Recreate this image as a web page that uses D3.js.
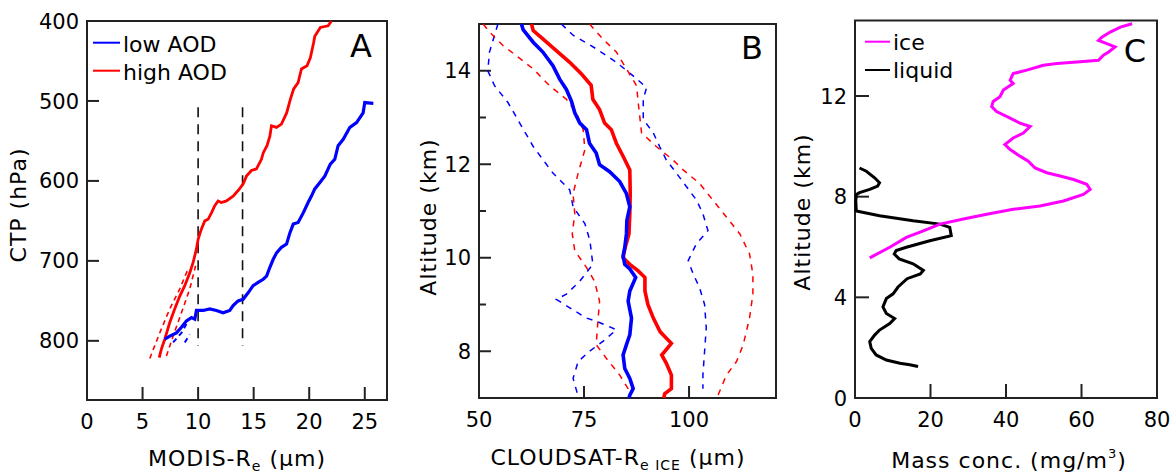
<!DOCTYPE html>
<html>
<head>
<meta charset="utf-8">
<title>Re profiles</title>
<script src="https://cdn.jsdelivr.net/npm/d3@7"></script>
<style>
body{margin:0;background:#fff;}
text{font-family:"DejaVu Sans",sans-serif;fill:#000;}
.tick{font-size:21px;}
.title{font-size:22px;letter-spacing:1px;}
.letter{font-size:32px;}
.leg{font-size:22px;}
</style>
</head>
<body>
<script>
// ---- panel A: MODIS Re vs cloud top pressure ----
const aXTicks = [0,5,10,15,20,25];
const aYTicks = [400,500,600,700,800];
const aMarkers = [10,14];           // dashed verticals
const aMarkerRange = [508,806];

const highAOD = [[22.0,400],[21.7,406],[21.0,408],[20.5,419],[20.4,427],[20.1,446],[19.8,456],[19.3,460],[19.0,477],[18.6,485],[18.3,498],[17.97,515],[17.5,529],[17.05,533],[16.6,531],[16.46,544],[16.2,556],[15.86,565],[15.7,573],[15.25,585],[14.8,587],[14.35,594],[14.05,604],[13.6,612],[13.15,619],[12.55,625],[12.1,627],[11.8,625],[11.5,631],[11.2,640],[10.9,648],[10.6,650],[10.3,660],[10.0,673],[9.85,685],[9.55,702],[9.25,715],[8.8,731],[8.35,744],[7.9,760],[7.45,777],[7.0,798],[6.7,810],[6.5,821]];
const highAODlo = [[5.65,822],[6.55,790],[7.45,760],[8.35,735],[9.1,710]];
const highAODhi = [[7.15,819],[7.75,794],[8.5,765],[9.25,735],[9.85,702]];

const lowAOD = [[25.77,503],[25.0,502],[24.85,515],[24.26,527],[23.66,533],[23.06,548],[22.6,556],[22.3,573],[21.9,579],[21.4,594],[20.96,602],[20.5,610],[20.2,619],[19.9,627],[19.46,640],[19.0,652],[18.56,654],[18.26,665],[17.96,679],[17.5,683],[17.06,690],[16.76,698],[16.46,708],[16.16,719],[15.86,723],[15.4,727],[14.95,731],[14.5,740],[14.05,748],[13.6,750],[13.15,756],[12.85,762],[12.25,765],[11.65,762],[11.05,760],[10.45,762],[9.85,762],[9.7,773],[9.4,771],[8.95,775],[8.5,783],[8.05,790],[7.45,794],[7.0,798]];
const lowAODlo = [[7.75,802],[8.5,790],[8.95,779]];
const lowAODhi = [[8.8,802],[9.25,792]];

// ---- panel B: CloudSat ice Re vs altitude ----
const bXTicks = [50,75,100];
const bYTicks = [8,10,12,14];
const bYMinor = [7,9,11,13,15];

const bHigh = [[62.5,15.0],[62.9,14.86],[65.2,14.68],[68.4,14.43],[71.6,14.18],[74.4,13.93],[76.7,13.69],[77.1,13.39],[78.7,13.17],[79.9,12.88],[81.5,12.74],[82.7,12.45],[84.3,12.17],[85.9,11.88],[86.0,11.37],[85.9,10.94],[85.7,10.51],[84.8,10.22],[84.3,10.0],[85.9,9.86],[87.9,9.72],[89.5,9.58],[89.5,9.29],[90.2,9.0],[91.5,8.71],[93.1,8.42],[94.6,8.28],[95.8,8.17],[93.5,7.92],[94.6,7.74],[95.8,7.49],[95.8,7.2],[94.2,7.09],[94.0,7.0]];
const bLow = [[60.1,15.0],[60.5,14.88],[62.9,14.61],[65.2,14.4],[67.6,14.11],[69.2,13.82],[70.8,13.6],[72.0,13.35],[72.8,13.1],[74.0,12.88],[75.6,12.74],[76.3,12.45],[77.9,12.24],[78.7,11.99],[81.1,11.84],[83.5,11.63],[85.1,11.37],[85.9,11.09],[85.2,10.8],[85.1,10.51],[84.7,10.22],[84.3,10.04],[84.7,9.86],[85.9,9.76],[87.3,9.58],[85.9,9.29],[85.5,9.07],[86.3,8.71],[85.9,8.35],[85.1,8.14],[84.3,7.92],[84.7,7.63],[85.9,7.42],[86.7,7.2],[85.9,7.06],[85.7,7.0]];
const bLowLo = [[54.5,15.0],[53.7,14.76],[52.5,14.4],[52.1,14.0],[53.7,13.68],[56.9,13.32],[59.7,12.88],[62.9,12.38],[67.6,11.81],[71.6,11.45],[72.4,11.09],[75.2,10.73],[76.4,10.37],[77.1,9.86],[74.0,9.5],[70.8,9.22],[68.4,9.11],[71.6,8.93],[75.6,8.71],[78.0,8.64],[82.7,8.46],[79.5,8.21],[76.3,8.0],[73.6,7.78],[72.4,7.42],[73.3,7.13],[73.3,7.0]];
const bLowHi = [[69.6,15.0],[72.4,14.76],[77.9,14.47],[82.7,14.18],[86.7,13.89],[89.9,13.64],[89.1,13.39],[89.1,12.96],[91.5,12.67],[93.0,12.38],[94.6,12.09],[97.0,11.81],[99.4,11.52],[101.8,11.23],[103.3,10.94],[104.5,10.58],[101.7,10.29],[99.8,9.94],[101.0,9.65],[102.5,9.36],[103.7,9.0],[104.1,8.5],[103.7,8.0],[103.3,7.49],[103.3,7.2]];
const bHighLo = [[51.0,15.0],[52.5,14.83],[55.7,14.54],[58.9,14.32],[62.9,14.04],[66.8,13.68],[70.8,13.39],[73.2,13.1],[74.8,12.74],[75.2,12.31],[73.6,11.81],[72.4,11.37],[72.8,10.94],[72.2,10.51],[72.8,10.15],[75.6,9.79],[77.5,9.5],[78.7,9.07],[78.3,8.64],[77.9,8.14],[80.3,7.85],[83.5,7.49],[85.5,7.2],[85.9,7.0]];
const bHighHi = [[76.3,15.0],[79.5,14.68],[82.7,14.4],[85.1,14.04],[87.5,13.68],[87.9,13.32],[88.7,12.67],[92.2,12.38],[96.2,12.09],[98.6,11.88],[102.5,11.59],[105.7,11.23],[108.9,10.87],[112.1,10.51],[114.4,10.08],[115.2,9.65],[115.2,9.22],[114.4,8.71],[112.9,8.14],[111.3,7.78],[108.9,7.49],[106.9,7.06]];

// ---- panel C: mass concentration vs altitude ----
const cXTicks = [0,20,40,60,80];
const cYTicks = [0,4,8,12];
const iceMass = [[73.4,14.87],[70.3,14.74],[67.6,14.54],[65.4,14.34],[64.5,14.21],[66.7,14.08],[68.9,13.95],[67.2,13.75],[65.8,13.62],[64.5,13.42],[59.6,13.36],[53.5,13.29],[49.9,13.22],[45.5,13.03],[41.9,12.89],[41.1,12.63],[41.9,12.5],[39.3,12.24],[38.4,11.97],[36.6,11.78],[36.2,11.58],[37.5,11.38],[41.1,11.12],[43.7,10.92],[46.4,10.79],[44.6,10.53],[41.9,10.33],[39.7,10.07],[41.1,9.87],[43.7,9.61],[45.9,9.41],[47.7,9.14],[50.8,8.95],[54.3,8.82],[57.9,8.68],[61.4,8.49],[62.3,8.29],[60.5,8.09],[55.2,7.83],[49.0,7.63],[41.9,7.5],[34.9,7.3],[28.7,7.11],[22.5,6.91],[18.1,6.64],[13.6,6.38],[9.2,5.99],[3.9,5.57]];
const liquidMass = [[1.2,9.14],[3.0,9.01],[5.2,8.75],[6.5,8.55],[6.0,8.42],[3.9,8.29],[1.2,8.16],[0.4,8.09],[0.2,7.83],[0.35,7.43],[6.5,7.24],[15.4,7.04],[22.5,6.91],[25.1,6.78],[25.5,6.45],[19.8,6.25],[13.6,5.99],[10.9,5.86],[10.4,5.72],[11.7,5.53],[15.4,5.33],[18.1,5.07],[17.3,4.93],[13.8,4.74],[11.4,4.41],[10.1,4.14],[8.3,3.95],[7.4,3.62],[8.3,3.36],[10.5,3.16],[9.2,2.96],[6.5,2.7],[5.2,2.5],[3.9,2.24],[4.3,1.97],[5.6,1.71],[8.3,1.51],[11.9,1.38],[14.5,1.32],[16.7,1.25]];

const svg = d3.select("body").append("svg")
    .attr("width",1172).attr("height",476);

function frame(x,y){
    const g = svg.append("g");
    const [t,b] = d3.extent(y.range());
    g.append("rect")
        .attr("x",x.range()[0]).attr("y",t)
        .attr("width",x.range()[1]-x.range()[0])
        .attr("height",b-t)
        .attr("fill","none").attr("stroke","#222").attr("stroke-width",2);
    return g;
}
function xTicks(g,x,y,vals,len,labelVals){
    const b = d3.max(y.range());
    vals.forEach(v=>{
        g.append("line").attr("x1",x(v)).attr("x2",x(v)).attr("y1",b).attr("y2",b-len)
            .attr("stroke","#222").attr("stroke-width",2);
    });
    labelVals.forEach(v=>{
        g.append("text").attr("class","tick").attr("x",x(v)).attr("y",b+29)
            .attr("text-anchor","middle").text(v);
    });
}
function yTicks(g,x,y,vals,len,labels){
    const l = x.range()[0];
    vals.forEach(v=>{
        g.append("line").attr("x1",l).attr("x2",l+len).attr("y1",y(v)).attr("y2",y(v))
            .attr("stroke","#222").attr("stroke-width",2);
        if(labels) g.append("text").attr("class","tick").attr("x",l-8).attr("y",y(v))
            .attr("dy","0.36em").attr("text-anchor","end").text(v);
    });
}
function path(g,x,y,data,color,w,dash){
    g.append("path").datum(data)
        .attr("d",d3.line().x(d=>x(d[0])).y(d=>y(d[1])))
        .attr("fill","none").attr("stroke",color).attr("stroke-width",w)
        .attr("stroke-dasharray",dash||null);
}
function yTitle(cx,cy,txt){
    svg.append("text").attr("class","title")
        .attr("transform",`translate(${cx},${cy}) rotate(-90)`)
        .attr("text-anchor","middle").attr("dy","0.36em").text(txt);
}

// panel A
const xA = d3.scaleLinear().domain([0,27]).range([87,387]);
const yA = d3.scaleLinear().domain([400,874]).range([21,400]);
const gA = frame(xA,yA);
xTicks(gA,xA,yA,aXTicks.slice(1),13,aXTicks);
yTicks(gA,xA,yA,aYTicks,12,true);
aMarkers.forEach(m=>{
    gA.append("line").attr("x1",xA(m)).attr("x2",xA(m))
        .attr("y1",yA(aMarkerRange[0])).attr("y2",yA(aMarkerRange[1]))
        .attr("stroke","#111").attr("stroke-width",1.6).attr("stroke-dasharray","10,7");
});
path(gA,xA,yA,highAODlo,"#ff0000",1.6,"5,4");
path(gA,xA,yA,highAODhi,"#ff0000",1.6,"5,4");
path(gA,xA,yA,lowAODlo,"#0000ff",2,"5,4");
path(gA,xA,yA,lowAODhi,"#0000ff",2,"5,4");
path(gA,xA,yA,highAOD,"#ff0000",2.8);
path(gA,xA,yA,lowAOD,"#0000ff",3.2);
[["low AOD","#0000ff",42.7],["high AOD","#ff0000",70.7]].forEach(d=>{
    svg.append("line").attr("x1",93).attr("x2",120).attr("y1",d[2]).attr("y2",d[2])
        .attr("stroke",d[1]).attr("stroke-width",2);
    svg.append("text").attr("class","leg").attr("x",123).attr("y",d[2]+9).text(d[0]);
});
svg.append("text").attr("class","letter").attr("x",361).attr("y",57)
    .attr("text-anchor","middle").text("A");
yTitle(18,205,"CTP (hPa)");
const tA = svg.append("text").attr("class","title").attr("x",237).attr("y",466).attr("text-anchor","middle");
tA.append("tspan").text("MODIS-R");
tA.append("tspan").attr("font-size","14px").attr("dy",5).text("e");
tA.append("tspan").attr("dy",-5).text("  (µm)");

// panel B
const xB = d3.scaleLinear().domain([50,120.7]).range([479,776]);
const yB = d3.scaleLinear().domain([7,15]).range([398,24]);
const gB = frame(xB,yB);
xTicks(gB,xB,yB,bXTicks.slice(1),12,bXTicks);
yTicks(gB,xB,yB,bYTicks,12,true);
yTicks(gB,xB,yB,bYMinor,7,false);
path(gB,xB,yB,bLowLo,"#0000ff",1.5,"6,6");
path(gB,xB,yB,bLowHi,"#0000ff",1.5,"6,6");
path(gB,xB,yB,bHighLo,"#ff0000",1.5,"6,6");
path(gB,xB,yB,bHighHi,"#ff0000",1.5,"6,6");
path(gB,xB,yB,bHigh,"#ff0000",3.6);
path(gB,xB,yB,bLow,"#0000ff",3.6);
svg.append("text").attr("class","letter").attr("x",752).attr("y",59)
    .attr("text-anchor","middle").text("B");
yTitle(428,217,"Altitude (km)");
const tB = svg.append("text").attr("class","title").attr("x",618).attr("y",465).attr("text-anchor","middle");
tB.append("tspan").text("CLOUDSAT-R");
tB.append("tspan").attr("font-size","14px").attr("dy",5).text("e ICE");
tB.append("tspan").attr("dy",-5).text("  (µm)");

// panel C
const xC = d3.scaleLinear().domain([0,80]).range([855,1157]);
const yC = d3.scaleLinear().domain([0,15]).range([398,20.5]);
const gC = frame(xC,yC);
xTicks(gC,xC,yC,cXTicks.slice(1,4),14,cXTicks);
yTicks(gC,xC,yC,cYTicks,14,true);
path(gC,xC,yC,liquidMass,"#000",3);
path(gC,xC,yC,iceMass,"#ff00ff",3);
[["ice","#ff00ff",41.7],["liquid","#000",70]].forEach(d=>{
    svg.append("line").attr("x1",865).attr("x2",890).attr("y1",d[2]).attr("y2",d[2])
        .attr("stroke",d[1]).attr("stroke-width",2);
    svg.append("text").attr("class","leg").attr("x",893).attr("y",d[2]+8).text(d[0]);
});
svg.append("text").attr("class","letter").attr("x",1135).attr("y",62)
    .attr("text-anchor","middle").text("C");
yTitle(802,212,"Altitude (km)");
const tC = svg.append("text").attr("class","title").attr("x",1009).attr("y",468).attr("text-anchor","middle");
tC.append("tspan").text("Mass conc. (mg/m");
tC.append("tspan").attr("font-size","13px").attr("dy",-10).text("3");
tC.append("tspan").attr("dy",10).text(")");
</script>
</body>
</html>
